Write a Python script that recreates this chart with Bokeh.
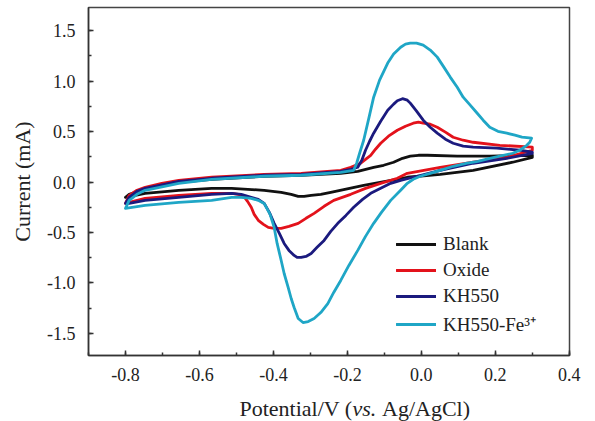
from bokeh.plotting import figure
from bokeh.layouts import column
from bokeh.models import (Range1d, SingleIntervalTicker, NumeralTickFormatter,
                          Legend, LegendItem, Label)
from bokeh.embed import file_html
from bokeh.resources import INLINE

FONT = "Liberation Serif"

# ---- data (potential V vs. Ag/AgCl, current mA); each loop: anodic scan then cathodic scan
blank_v = [-0.80, -0.790, -0.747, -0.656, -0.567, -0.425, -0.325, -0.218, -0.172, -0.129,
           -0.102, -0.075, -0.051, -0.030, -0.008, 0.016, 0.097, 0.185, 0.30,
           0.30, 0.247, 0.140, 0.051, -0.038, -0.156, -0.245, -0.272, -0.298, -0.317,
           -0.333, -0.352, -0.379, -0.425, -0.513, -0.567, -0.656, -0.747, -0.80]
blank_i = [-0.152, -0.122, -0.072, -0.003, 0.027, 0.057, 0.067, 0.086, 0.106, 0.146,
           0.166, 0.196, 0.235, 0.256, 0.265, 0.265, 0.256, 0.256, 0.265,
           0.245, 0.196, 0.116, 0.076, 0.047, -0.033, -0.102, -0.122, -0.132, -0.142,
           -0.142, -0.122, -0.102, -0.082, -0.063, -0.063, -0.082, -0.112, -0.152]

oxide_v = [-0.80, -0.790, -0.769, -0.747, -0.702, -0.656, -0.567, -0.425, -0.325, -0.218,
           -0.191, -0.164, -0.151, -0.137, -0.124, -0.110, -0.089, -0.065, -0.043, -0.022,
           -0.008, 0.005, 0.024, 0.043, 0.065, 0.086, 0.113, 0.140, 0.212, 0.30,
           0.30, 0.231, 0.140, 0.051, -0.038, -0.065, -0.110, -0.151, -0.191, -0.237,
           -0.263, -0.290, -0.312, -0.333, -0.358, -0.379, -0.398, -0.414, -0.427, -0.441,
           -0.452, -0.460, -0.470, -0.478, -0.495, -0.513, -0.567, -0.656, -0.747, -0.790, -0.80]
oxide_i = [-0.212, -0.132, -0.082, -0.053, -0.013, 0.017, 0.047, 0.076, 0.086, 0.116,
           0.146, 0.186, 0.225, 0.265, 0.325, 0.384, 0.454, 0.513, 0.553, 0.583,
           0.593, 0.583, 0.573, 0.543, 0.494, 0.444, 0.414, 0.394, 0.364, 0.345,
           0.315, 0.245, 0.196, 0.146, 0.086, 0.037, -0.013, -0.063, -0.122, -0.182,
           -0.241, -0.311, -0.360, -0.410, -0.440, -0.460, -0.460, -0.450, -0.420, -0.380,
           -0.321, -0.251, -0.192, -0.152, -0.122, -0.112, -0.112, -0.132, -0.162, -0.202, -0.212]

kh550_v = [-0.80, -0.790, -0.769, -0.747, -0.656, -0.567, -0.425, -0.325, -0.218, -0.191,
           -0.172, -0.161, -0.151, -0.140, -0.129, -0.110, -0.091, -0.075, -0.065, -0.051,
           -0.038, -0.030, -0.013, 0.005, 0.024, 0.043, 0.065, 0.086, 0.113, 0.140, 0.204,
           0.266, 0.30,
           0.30, 0.231, 0.140, 0.051, -0.022, -0.056, -0.083, -0.110, -0.137, -0.159,
           -0.183, -0.204, -0.226, -0.245, -0.263, -0.282, -0.298, -0.312, -0.325, -0.336,
           -0.344, -0.358, -0.371, -0.384, -0.398, -0.411, -0.425, -0.441, -0.460, -0.487,
           -0.513, -0.567, -0.656, -0.747, -0.790, -0.80]
kh550_i = [-0.212, -0.152, -0.092, -0.063, 0.007, 0.037, 0.067, 0.076, 0.106, 0.126,
           0.146, 0.215, 0.315, 0.404, 0.484, 0.603, 0.712, 0.772, 0.806, 0.826,
           0.811, 0.782, 0.702, 0.613, 0.543, 0.484, 0.424, 0.384, 0.355, 0.345, 0.335,
           0.315, 0.295,
           0.285, 0.235, 0.186, 0.116, 0.047, 0.017, -0.013, -0.063, -0.112, -0.172,
           -0.251, -0.331, -0.410, -0.490, -0.579, -0.648, -0.708, -0.738, -0.748, -0.748,
           -0.728, -0.678, -0.609, -0.509, -0.410, -0.301, -0.212, -0.172, -0.152, -0.122,
           -0.112, -0.122, -0.152, -0.182, -0.212, -0.212]

fe_v = [-0.80, -0.790, -0.769, -0.747, -0.656, -0.567, -0.425, -0.325, -0.218, -0.183,
        -0.175, -0.167, -0.156, -0.142, -0.129, -0.113, -0.091, -0.075, -0.056, -0.043,
        -0.030, -0.013, 0.005, 0.024, 0.043, 0.059, 0.078, 0.097, 0.113, 0.132, 0.151,
        0.167, 0.185, 0.207, 0.231, 0.253, 0.272, 0.298,
        0.293, 0.285, 0.266, 0.247, 0.212, 0.185, 0.153, 0.124, 0.086, 0.051, 0.024,
        -0.003, -0.022, -0.038, -0.056, -0.083, -0.108, -0.129, -0.151, -0.172, -0.196,
        -0.218, -0.237, -0.253, -0.272, -0.290, -0.306, -0.320, -0.333, -0.344, -0.352,
        -0.360, -0.371, -0.379, -0.390, -0.398, -0.409, -0.425, -0.441, -0.460, -0.487,
        -0.513, -0.567, -0.656, -0.747, -0.80]
fe_i = [-0.261, -0.182, -0.122, -0.082, -0.013, 0.027, 0.057, 0.067, 0.096, 0.116,
        0.186, 0.285, 0.414, 0.633, 0.841, 1.010, 1.179, 1.268, 1.336, 1.367,
        1.377, 1.377, 1.357, 1.308, 1.238, 1.149, 1.040, 0.940, 0.841, 0.762, 0.682,
        0.613, 0.543, 0.503, 0.484, 0.464, 0.444, 0.434,
        0.394, 0.364, 0.315, 0.285, 0.256, 0.235, 0.205, 0.186, 0.156, 0.116, 0.086,
        0.057, 0.027, -0.013, -0.082, -0.182, -0.301, -0.410, -0.539, -0.678, -0.827,
        -0.976, -1.095, -1.205, -1.294, -1.353, -1.383, -1.393, -1.353, -1.244, -1.155,
        -1.046, -0.907, -0.778, -0.609, -0.450, -0.321, -0.212, -0.182, -0.162, -0.152,
        -0.152, -0.182, -0.202, -0.231, -0.261]

series_names = ["Blank", "Oxide", "KH550", "KH550-Fe\u00b3\u207a"]
series_colors = ["#111111", "#e3121b", "#1b1a7e", "#1fa6c6"]
series_x = [blank_v, oxide_v, kh550_v, fe_v]
series_y = [blank_i, oxide_i, kh550_i, fe_i]

x_ticks_interval = 0.2
y_ticks_interval = 0.5

p = figure(width=595, height=394, output_backend="svg", toolbar_location=None,
           x_range=Range1d(-0.9, 0.4005), y_range=Range1d(-1.72, 1.73),
           min_border_left=88, min_border_right=26, min_border_top=7, min_border_bottom=39)
p.background_fill_color = "white"
p.border_fill_color = "white"
p.grid.visible = False
p.outline_line_color = "#444444"
p.outline_line_width = 1.5

renderers = []
for xs, ys, c in zip(series_x, series_y, series_colors):
    r = p.line(xs, ys, line_color=c, line_width=2.8, line_join="round", line_cap="round")
    renderers.append(r)

p.xaxis.ticker = SingleIntervalTicker(interval=x_ticks_interval, num_minor_ticks=2)
p.yaxis.ticker = SingleIntervalTicker(interval=y_ticks_interval, num_minor_ticks=2)
p.xaxis.formatter = NumeralTickFormatter(format="0.0")
p.yaxis.formatter = NumeralTickFormatter(format="0.0")
for ax in (p.xaxis, p.yaxis):
    ax.major_tick_in = 5
    ax.major_tick_out = 0
    ax.minor_tick_in = 3
    ax.minor_tick_out = 0
    ax.axis_line_width = 1.5
    ax.axis_line_color = "#333333"
    ax.major_tick_line_color = "#333333"
    ax.minor_tick_line_color = "#333333"
    ax.major_tick_line_width = 1.5
    ax.minor_tick_line_width = 1.5
    ax.major_label_text_font = FONT
    ax.major_label_text_font_size = "18px"
    ax.major_label_text_color = "#222222"
p.xaxis.major_label_standoff = 12
p.yaxis.major_label_standoff = 13

p.yaxis.axis_label = "Current (mA)"
p.yaxis.axis_label_text_font = FONT
p.yaxis.axis_label_text_font_size = "22px"
p.yaxis.axis_label_text_font_style = "normal"
p.yaxis.axis_label_text_color = "#222222"
p.yaxis.axis_label_standoff = 9

items = [LegendItem(label=n, renderers=[r]) for n, r in zip(series_names, renderers)]
legend = Legend(items=items, location=(308, 18), glyph_width=40, glyph_height=20,
                label_height=20, spacing=4, padding=0, margin=0, label_standoff=7,
                border_line_alpha=0, background_fill_alpha=0,
                label_text_font=FONT, label_text_font_size="19px",
                label_text_color="#222222")
p.add_layout(legend, "center")

# ---- x-axis title strip (separate svg canvas so the italic "vs." can be mixed in)
t = figure(width=595, height=27, output_backend="svg", toolbar_location=None,
           x_axis_type=None, y_axis_type=None, min_border=0,
           x_range=Range1d(0, 1), y_range=Range1d(0, 1))
t.outline_line_color = None
t.grid.visible = False
t.background_fill_color = "white"
t.border_fill_color = "white"
lab_kw = dict(x_units="screen", y_units="screen", text_font=FONT, text_font_size="22px",
              text_color="#222222", text_baseline="alphabetic", text_align="left")
t.add_layout(Label(x=151, y=13.5, text="Potential/V (", **lab_kw))
t.add_layout(Label(x=264, y=13.5, text="vs.", text_font_style="italic", **lab_kw))
t.add_layout(Label(x=293.5, y=13.5, text="Ag/AgCl)", **lab_kw))

layout = column(p, t, spacing=0)
open("out.html", "w").write(file_html(layout, INLINE))
